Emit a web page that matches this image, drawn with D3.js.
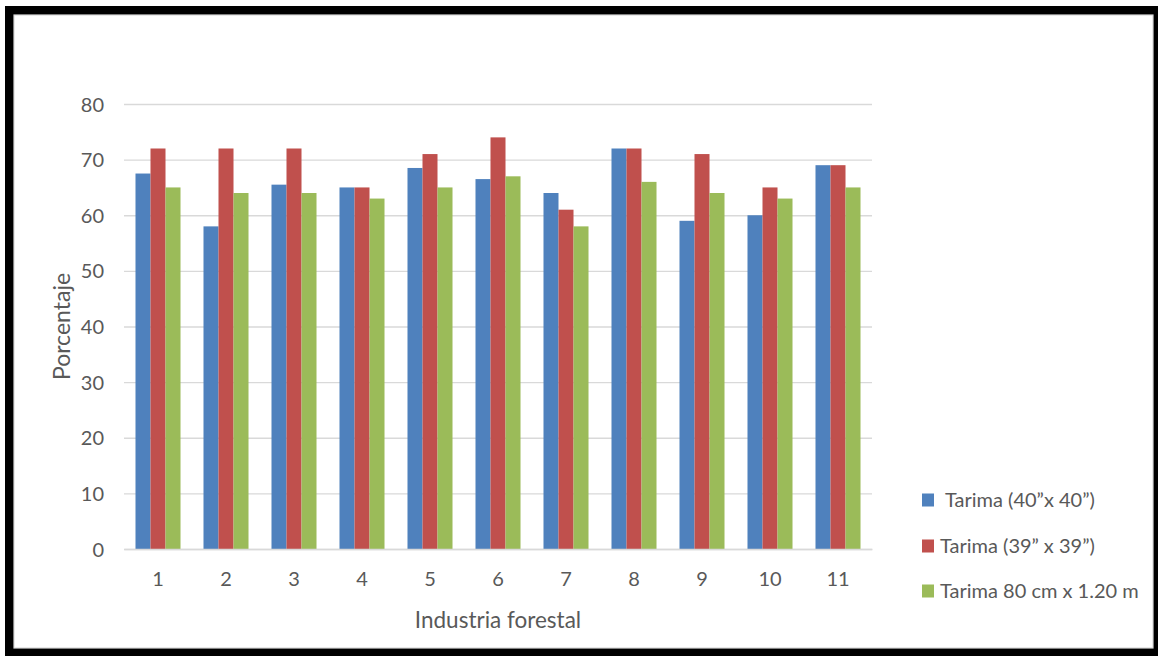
<!DOCTYPE html>
<html>
<head>
<meta charset="utf-8">
<script src="https://cdn.jsdelivr.net/npm/d3@7"></script>
<style>
  html, body { margin: 0; padding: 0; background: #fff; }
  svg text { font-family: Lato, "Open Sans", sans-serif; fill: #595959; }
</style>
</head>
<body>
<svg id="chart" width="1158" height="656"></svg>
<script>
// Industries (x axis categories)
const categories = ["1", "2", "3", "4", "5", "6", "7", "8", "9", "10", "11"];

// Percentage per pallet type
const seriesNames = ["Tarima (40”x 40”)", "Tarima (39” x 39”)", "Tarima 80 cm x 1.20 m"];
const tarima40 = [67.5, 58, 65.5, 65, 68.5, 66.5, 64, 72, 59, 60, 69];
const tarima39 = [72, 72, 72, 65, 71, 74, 61, 72, 71, 65, 69];
const tarima80 = [65, 64, 64, 63, 65, 67, 58, 66, 64, 63, 65];

const yTicks = [0, 10, 20, 30, 40, 50, 60, 70, 80];
const colors = ["#4F81BD", "#C0504D", "#9BBB59"];

const seriesValues = [tarima40, tarima39, tarima80];

const svg = d3.select("#chart");

// Frame around the chart
svg.append("rect").attr("x", 5).attr("y", 6).attr("width", 1153).attr("height", 650).attr("fill", "#000");
svg.append("rect").attr("x", 14).attr("y", 15).attr("width", 1139).attr("height", 633)
  .attr("fill", "#fff").attr("stroke", "#D9D9D9").attr("stroke-width", 1.2);

const plot = { left: 124, right: 872, top: 104, bottom: 549 };

const x0 = d3.scaleBand().domain(categories).range([plot.left, plot.right])
  .paddingInner(0.338).paddingOuter(0.169);
const x1 = d3.scaleBand().domain(d3.range(seriesNames.length)).range([0, x0.bandwidth()]);
const y = d3.scaleLinear().domain([0, 80]).range([plot.bottom, plot.top]);

// Horizontal gridlines
const grid = svg.append("g").attr("transform", `translate(${plot.left},0)`)
  .call(d3.axisLeft(y).tickValues(yTicks).tickSize(-(plot.right - plot.left)).tickFormat(""));
grid.select(".domain").remove();
grid.selectAll(".tick line").attr("stroke", "#D9D9D9").attr("stroke-width", 1.3);

// Bars
const groups = svg.append("g").selectAll("g")
  .data(categories)
  .join("g")
  .attr("transform", d => `translate(${x0(d)},0)`);

groups.selectAll("rect")
  .data((d, i) => seriesValues.map((vals, s) => ({ s, v: vals[i] })))
  .join("rect")
  .attr("x", d => x1(d.s))
  .attr("width", x1.bandwidth())
  .attr("y", d => y(d.v))
  .attr("height", d => y(0) - y(d.v))
  .attr("fill", d => colors[d.s]);

// Y axis labels
const yAxis = svg.append("g").attr("transform", `translate(${plot.left},0)`)
  .call(d3.axisLeft(y).tickValues(yTicks).tickSize(0).tickPadding(20));
yAxis.select(".domain").remove();
yAxis.selectAll("text").style("font-size", "20px").attr("dy", "0.35em");

// X axis labels
const xAxis = svg.append("g").attr("transform", `translate(0,${plot.bottom})`)
  .call(d3.axisBottom(x0).tickSize(0).tickPadding(23));
xAxis.select(".domain").attr("stroke", "#D9D9D9").attr("stroke-width", 1.3);
xAxis.selectAll("text").style("font-size", "20px");

// Axis titles
svg.append("text")
  .attr("x", (plot.left + plot.right) / 2).attr("y", 628)
  .attr("text-anchor", "middle").style("font-size", "22.5px")
  .text("Industria forestal");

svg.append("text")
  .attr("transform", `translate(70,${(plot.top + plot.bottom) / 2}) rotate(-90)`)
  .attr("text-anchor", "middle").style("font-size", "23px")
  .text("Porcentaje");

// Legend
const legendRows = [500, 546, 591];
const legend = svg.append("g").selectAll("g")
  .data(seriesNames)
  .join("g")
  .attr("transform", (d, i) => `translate(922,${legendRows[i]})`);
legend.append("rect").attr("x", 0).attr("y", -6.5).attr("width", 12).attr("height", 13)
  .attr("fill", (d, i) => colors[i]);
legend.append("text")
  .attr("x", (d, i) => i === 0 ? 23 : 18).attr("dy", "0.35em")
  .style("font-size", "20px")
  .text(d => d);
</script>
</body>
</html>
